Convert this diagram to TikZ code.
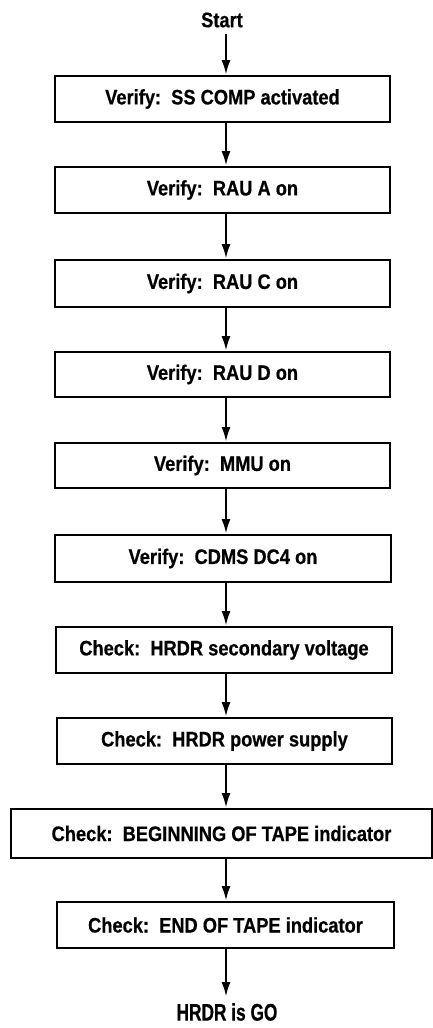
\documentclass[tikz,border=0pt]{standalone}
\usepackage{fontspec}
\setmainfont{Liberation Sans}[FakeStretch=0.87, BoldFeatures={FakeBold=0.6}]
\newfontfamily\gofont{Liberation Sans}[FakeStretch=0.72, BoldFeatures={FakeBold=0.6}]
\usetikzlibrary{arrows.meta}
\begin{document}
\begin{tikzpicture}[x=1pt,y=-1pt,
  txt/.style={font=\bfseries\fontsize{21}{25}\selectfont},
  box/.style={draw, line width=1.8pt, inner sep=0pt, txt, minimum height=46pt},
  lab/.style={txt, inner sep=0pt},
  arr/.style={line width=2.6pt, -{Latex[length=15pt,width=9pt]}}]
\useasboundingbox (0,0) rectangle (433,1028);
\coordinate (ax) at (226,0);
\node[lab] (start) at (222,20) {Start};
\node[box, minimum width=335pt] (b1) at (222.5,99) {Verify:\ \ SS COMP activated};
\node[box, minimum width=335pt] (b2) at (222.5,190) {Verify:\ \ RAU A on};
\node[box, minimum width=335pt, minimum height=47pt] (b3) at (222.5,283.5) {Verify:\ \ RAU C on};
\node[box, minimum width=335pt, minimum height=45pt] (b4) at (222.5,374.5) {Verify:\ \ RAU D on};
\node[box, minimum width=335pt, minimum height=45pt] (b5) at (222.5,465.5) {Verify:\ \ MMU on};
\node[box, minimum width=336pt, minimum height=47pt] (b6) at (223,558.5) {Verify:\ \ CDMS DC4 on};
\node[box, minimum width=336pt] (b7) at (224,650) {Check:\ \ HRDR secondary voltage};
\node[box, minimum width=335pt] (b8) at (224.5,741) {Check:\ \ HRDR power supply};
\node[box, minimum width=421pt, minimum height=49pt] (b9) at (221.5,833.5) {Check:\ \ BEGINNING OF TAPE indicator};
\node[box, minimum width=337pt] (b10) at (225.5,925) {Check:\ \ END OF TAPE indicator};
\node[lab, font=\gofont\bfseries\fontsize{24}{28}\selectfont] (go) at (227,1012) {HRDR is GO};
\draw[arr] ([yshift=-6pt]start.south -| ax) -- (b1.north -| ax);
\draw[arr] (b1.south -| ax) -- (b2.north -| ax);
\draw[arr] (b2.south -| ax) -- (b3.north -| ax);
\draw[arr] (b3.south -| ax) -- (b4.north -| ax);
\draw[arr] (b4.south -| ax) -- (b5.north -| ax);
\draw[arr] (b5.south -| ax) -- (b6.north -| ax);
\draw[arr] (b6.south -| ax) -- (b7.north -| ax);
\draw[arr] (b7.south -| ax) -- (b8.north -| ax);
\draw[arr] (b8.south -| ax) -- (b9.north -| ax);
\draw[arr] (b9.south -| ax) -- (b10.north -| ax);
\draw[arr] (b10.south -| ax) -- ([yshift=6pt]go.north -| ax);
\end{tikzpicture}
\end{document}
